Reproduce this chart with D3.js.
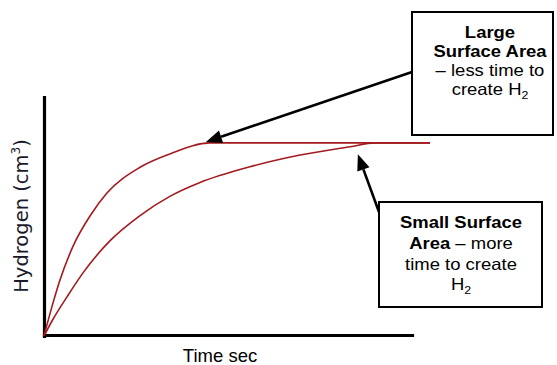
<!DOCTYPE html>
<html>
<head>
<meta charset="utf-8">
<script src="https://cdn.jsdelivr.net/npm/d3@7"></script>
<style>
  html, body { margin: 0; padding: 0; background: #fff; }
  svg { display: block; }
</style>
</head>
<body>
<svg id="chart" width="557" height="365"></svg>
<script>
// ---- data ----
const largeTime = [0, 2.2, 4.3, 7.9, 12.5, 17.1, 26.1, 34.2, 45.1, 104.9];
const largeHydrogen = [0, 12.5, 23.2, 37.6, 50.2, 59.8, 70.6, 76.2, 80.8, 80.8];
const smallTime = [0, 2.4, 6.3, 10.6, 17.9, 26.1, 34.2, 42.4, 56.0, 69.6, 83.2, 89.9, 104.9];
const smallHydrogen = [0, 6.9, 16.5, 26.4, 39.8, 50.4, 58.4, 64.2, 70.8, 75.7, 79.2, 80.8, 80.8];
const xLabel = "Time sec";
const yLabel = "Hydrogen (cm";
const largeLines = [
  [{t: "Large", b: true}],
  [{t: "Surface Area", b: true}],
  [{t: "– less time to", b: false}],
  [{t: "create H", b: false}, {t: "2", b: false, sub: true}]
];
const smallLines = [
  [{t: "Small Surface", b: true}],
  [{t: "Area", b: true}, {t: " – more", b: false}],
  [{t: "time to create", b: false}],
  [{t: "H", b: false}, {t: "2", b: false, sub: true}]
];
// arrow targets in data units (time, hydrogen)
const largeArrowTip = [44.0, 80.8];
const smallArrowTip = [85.3, 76.0];

// ---- layout ----
const svg = d3.select("#chart");
const x = d3.scaleLinear().domain([0, 100]).range([44, 412]);
const y = d3.scaleLinear().domain([0, 100]).range([336, 97]);
const curveColor = "#a31a1f";

// axes
const xAxis = svg.append("g").attr("transform", "translate(0,335)")
  .call(d3.axisBottom(x).ticks(0).tickSizeOuter(0));
const yAxis = svg.append("g").attr("transform", "translate(44,0)")
  .call(d3.axisLeft(y).ticks(0).tickSizeOuter(0));
[xAxis, yAxis].forEach(a => {
  a.select(".domain").attr("stroke", "#000").attr("stroke-width", 3.2).attr("stroke-linecap", "square");
  a.selectAll("text").remove();
});

// curves
const line = d3.line().x(d => x(d[0])).y(d => y(d[1])).curve(d3.curveMonotoneX);
const largeData = largeTime.map((t, i) => [t, largeHydrogen[i]]);
const smallData = smallTime.map((t, i) => [t, smallHydrogen[i]]);
[smallData, largeData].forEach(data => {
  svg.append("path").datum(data)
    .attr("d", line)
    .attr("fill", "none")
    .attr("stroke", curveColor)
    .attr("stroke-width", 1.6);
});

// axis labels
svg.append("text")
  .attr("x", 220).attr("y", 362)
  .attr("text-anchor", "middle")
  .attr("font-family", "Liberation Sans, Arial, sans-serif")
  .attr("font-size", 18.5)
  .attr("fill", "#000")
  .text(xLabel);

const yl = svg.append("text")
  .attr("transform", "translate(28,216) rotate(-90)")
  .attr("text-anchor", "middle")
  .attr("font-family", "DejaVu Sans, sans-serif")
  .attr("font-size", 19.5)
  .attr("fill", "#1a1a2a");
yl.append("tspan").text(yLabel);
yl.append("tspan").attr("font-size", 12).attr("dy", -8).text("3");
yl.append("tspan").attr("dy", 8).text(")");

// annotation boxes
function box(x0, y0, w, h, lines, cx, firstBase, step) {
  svg.append("rect").attr("x", x0).attr("y", y0).attr("width", w).attr("height", h)
    .attr("fill", "#fff").attr("stroke", "#000").attr("stroke-width", 2);
  lines.forEach((parts, i) => {
    const t = svg.append("text")
      .attr("transform", `translate(${cx},${firstBase + i * step}) scale(1.12,1)`)
      .attr("text-anchor", "middle")
      .attr("font-family", "Liberation Sans, Arial, sans-serif")
      .attr("font-size", 16.5)
      .attr("fill", "#000");
    parts.forEach(p => {
      const s = t.append("tspan").text(p.t).attr("font-weight", p.b ? "bold" : "normal");
      if (p.sub) s.attr("font-size", 11).attr("dy", 4);
    });
  });
}

function arrow(x1, y1, x2, y2) {
  const ang = Math.atan2(y2 - y1, x2 - x1);
  const L = 16, W = 6.5;
  const bx = x2 - L * Math.cos(ang), by = y2 - L * Math.sin(ang);
  svg.append("line").attr("x1", x1).attr("y1", y1).attr("x2", bx).attr("y2", by)
    .attr("stroke", "#000").attr("stroke-width", 2.6);
  const px = -Math.sin(ang) * W, py = Math.cos(ang) * W;
  svg.append("path")
    .attr("d", `M${x2},${y2}L${bx + px},${by + py}L${bx - px},${by - py}Z`)
    .attr("fill", "#000");
}

arrow(412, 72, x(largeArrowTip[0]), y(largeArrowTip[1]) - 1);
arrow(379, 212, x(smallArrowTip[0]), y(smallArrowTip[1]));

box(412, 12, 141, 123, largeLines, 490, 38, 19);
box(379, 202, 163, 105, smallLines, 461, 228, 20.8);
</script>
</body>
</html>
